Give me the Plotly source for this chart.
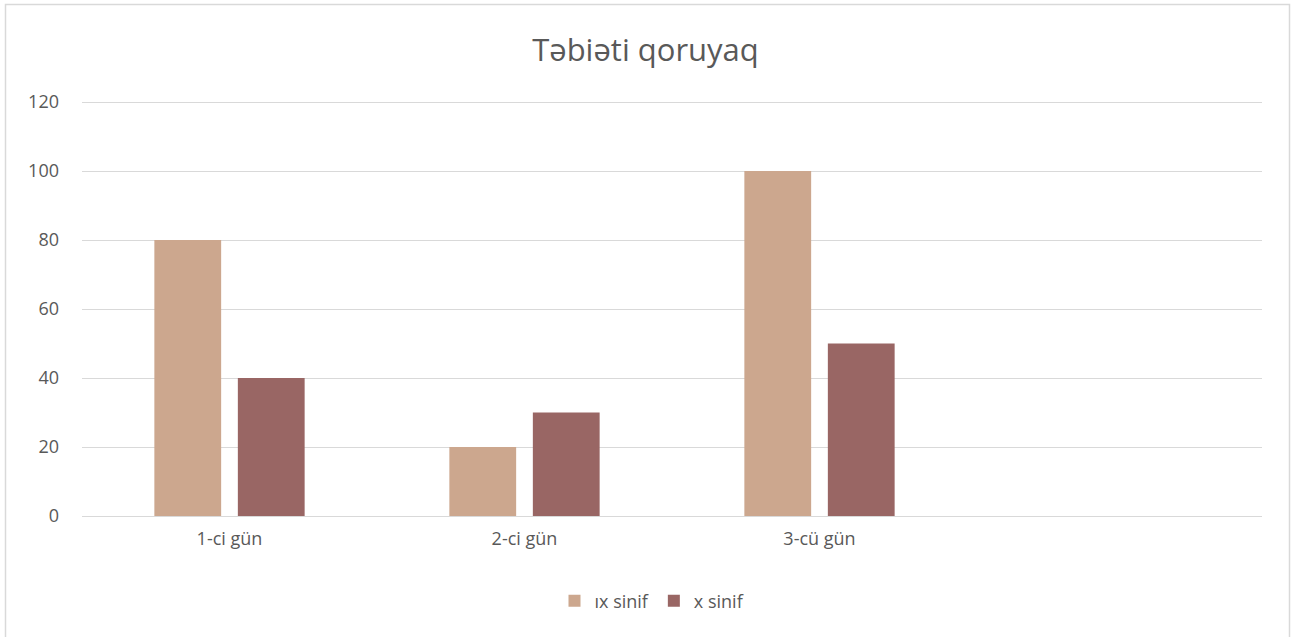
import plotly.graph_objects as go

categories = ["1-ci gün", "2-ci gün", "3-cü gün", " "]
series_names = ["ıx sinif", "x sinif"]
ix_values = [80, 20, 100, None]
x_values = [40, 30, 50, None]
colors = ["#CCA78E", "#996664"]
y_ticks = [0, 20, 40, 60, 80, 100, 120]

W, H = 1291, 637
L, R, T, B = 82, 1262, 100, 516
YMAX = 120.58

fig = go.Figure()
for name, vals, col in zip(series_names, [ix_values, x_values], colors):
    fig.add_trace(go.Bar(
        x=categories, y=vals, name=name,
        marker=dict(color=col, line=dict(width=0)),
    ))

pw, ph = R - L, B - T
def px(x):
    return (x - L) / pw
def py(y):
    return (B - y) / ph

fig.update_layout(
    width=W, height=H,
    margin=dict(l=L, r=W - R, t=T, b=H - B, pad=0),
    paper_bgcolor="white", plot_bgcolor="white",
    barmode="group", bargap=0.434, bargroupgap=0.2,
    font=dict(family="Open Sans, Noto Sans, sans-serif", color="#595959", size=18),
    title=dict(text="Təbiəti qoruyaq", x=0.5, xanchor="center",
               y=1 - 50 / H, yanchor="middle",
               font=dict(size=31, color="#595959")),
    showlegend=True,
    legend=dict(orientation="h", x=px(652), xanchor="center", y=py(601), yanchor="middle",
                font=dict(size=18, color="#595959"), traceorder="normal",
                itemwidth=30),
    xaxis=dict(showgrid=False, showline=False, ticks="", tickfont=dict(size=18),
               ticklabelstandoff=10),
    yaxis=dict(range=[0, YMAX], tickvals=y_ticks, showgrid=True, gridcolor="#D9D9D9",
               gridwidth=1, zeroline=True, zerolinecolor="#D9D9D9", zerolinewidth=1,
               showline=False, ticks="", tickfont=dict(size=18), ticklabelstandoff=22),
    shapes=[dict(type="rect", xref="paper", yref="paper",
                 x0=px(5.5), x1=px(1289.5), y0=py(650), y1=py(4.5),
                 line=dict(color="#D9D9D9", width=1.5), fillcolor="rgba(0,0,0,0)", layer="below")],
)

fig.write_html("out.html", config={"displayModeBar": False},
               post_script="document.body.style.margin='0px';")
